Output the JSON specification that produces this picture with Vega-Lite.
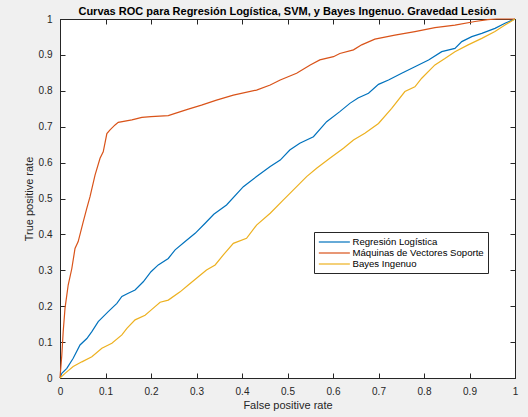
{
  "$schema": "https://vega.github.io/schema/vega-lite/v6.json",
  "width": 455,
  "height": 359,
  "autosize": "none",
  "padding": {"left": 60, "top": 19, "right": 13, "bottom": 39},
  "background": "#f0f0f0",
  "title": {
    "text": "Curvas ROC para Regresión Logística, SVM, y Bayes Ingenuo. Gravedad Lesión",
    "font": "Liberation Sans",
    "fontSize": 11,
    "fontWeight": "bold",
    "color": "#000000",
    "anchor": "middle",
    "frame": "group",
    "offset": -3
  },
  "datasets": {
    "roc": [
      {"model": "Regresión Logística", "fpr": 0, "tpr": 0},
      {"model": "Regresión Logística", "fpr": 0.004, "tpr": 0.013},
      {"model": "Regresión Logística", "fpr": 0.015, "tpr": 0.027},
      {"model": "Regresión Logística", "fpr": 0.029, "tpr": 0.055},
      {"model": "Regresión Logística", "fpr": 0.044, "tpr": 0.092},
      {"model": "Regresión Logística", "fpr": 0.059, "tpr": 0.11},
      {"model": "Regresión Logística", "fpr": 0.07, "tpr": 0.129},
      {"model": "Regresión Logística", "fpr": 0.084, "tpr": 0.157},
      {"model": "Regresión Logística", "fpr": 0.106, "tpr": 0.185},
      {"model": "Regresión Logística", "fpr": 0.125, "tpr": 0.208},
      {"model": "Regresión Logística", "fpr": 0.136, "tpr": 0.227},
      {"model": "Regresión Logística", "fpr": 0.15, "tpr": 0.236},
      {"model": "Regresión Logística", "fpr": 0.165, "tpr": 0.245},
      {"model": "Regresión Logística", "fpr": 0.183, "tpr": 0.268},
      {"model": "Regresión Logística", "fpr": 0.2, "tpr": 0.296},
      {"model": "Regresión Logística", "fpr": 0.216, "tpr": 0.315},
      {"model": "Regresión Logística", "fpr": 0.238, "tpr": 0.333},
      {"model": "Regresión Logística", "fpr": 0.253, "tpr": 0.357},
      {"model": "Regresión Logística", "fpr": 0.275, "tpr": 0.38},
      {"model": "Regresión Logística", "fpr": 0.297, "tpr": 0.403},
      {"model": "Regresión Logística", "fpr": 0.319, "tpr": 0.431},
      {"model": "Regresión Logística", "fpr": 0.338, "tpr": 0.456},
      {"model": "Regresión Logística", "fpr": 0.366, "tpr": 0.482},
      {"model": "Regresión Logística", "fpr": 0.403, "tpr": 0.533},
      {"model": "Regresión Logística", "fpr": 0.432, "tpr": 0.561},
      {"model": "Regresión Logística", "fpr": 0.462, "tpr": 0.589},
      {"model": "Regresión Logística", "fpr": 0.484, "tpr": 0.607},
      {"model": "Regresión Logística", "fpr": 0.505, "tpr": 0.635},
      {"model": "Regresión Logística", "fpr": 0.527, "tpr": 0.654},
      {"model": "Regresión Logística", "fpr": 0.557, "tpr": 0.672},
      {"model": "Regresión Logística", "fpr": 0.586, "tpr": 0.714},
      {"model": "Regresión Logística", "fpr": 0.615, "tpr": 0.742},
      {"model": "Regresión Logística", "fpr": 0.637, "tpr": 0.765},
      {"model": "Regresión Logística", "fpr": 0.655, "tpr": 0.78},
      {"model": "Regresión Logística", "fpr": 0.678, "tpr": 0.793},
      {"model": "Regresión Logística", "fpr": 0.7, "tpr": 0.818},
      {"model": "Regresión Logística", "fpr": 0.722, "tpr": 0.83},
      {"model": "Regresión Logística", "fpr": 0.751, "tpr": 0.849},
      {"model": "Regresión Logística", "fpr": 0.78, "tpr": 0.867},
      {"model": "Regresión Logística", "fpr": 0.81, "tpr": 0.886},
      {"model": "Regresión Logística", "fpr": 0.839, "tpr": 0.909},
      {"model": "Regresión Logística", "fpr": 0.868, "tpr": 0.918},
      {"model": "Regresión Logística", "fpr": 0.883, "tpr": 0.937},
      {"model": "Regresión Logística", "fpr": 0.905, "tpr": 0.951},
      {"model": "Regresión Logística", "fpr": 0.927, "tpr": 0.96},
      {"model": "Regresión Logística", "fpr": 0.956, "tpr": 0.974},
      {"model": "Regresión Logística", "fpr": 0.978, "tpr": 0.988},
      {"model": "Regresión Logística", "fpr": 1, "tpr": 1},
      {"model": "Máquinas de Vectores Soporte", "fpr": 0, "tpr": 0},
      {"model": "Máquinas de Vectores Soporte", "fpr": 0.004, "tpr": 0.064},
      {"model": "Máquinas de Vectores Soporte", "fpr": 0.007, "tpr": 0.129},
      {"model": "Máquinas de Vectores Soporte", "fpr": 0.011, "tpr": 0.194},
      {"model": "Máquinas de Vectores Soporte", "fpr": 0.018, "tpr": 0.259},
      {"model": "Máquinas de Vectores Soporte", "fpr": 0.026, "tpr": 0.305},
      {"model": "Máquinas de Vectores Soporte", "fpr": 0.033, "tpr": 0.361},
      {"model": "Máquinas de Vectores Soporte", "fpr": 0.04, "tpr": 0.38},
      {"model": "Máquinas de Vectores Soporte", "fpr": 0.051, "tpr": 0.435},
      {"model": "Máquinas de Vectores Soporte", "fpr": 0.059, "tpr": 0.473},
      {"model": "Máquinas de Vectores Soporte", "fpr": 0.066, "tpr": 0.505},
      {"model": "Máquinas de Vectores Soporte", "fpr": 0.077, "tpr": 0.565},
      {"model": "Máquinas de Vectores Soporte", "fpr": 0.088, "tpr": 0.612},
      {"model": "Máquinas de Vectores Soporte", "fpr": 0.095, "tpr": 0.63},
      {"model": "Máquinas de Vectores Soporte", "fpr": 0.103, "tpr": 0.681},
      {"model": "Máquinas de Vectores Soporte", "fpr": 0.11, "tpr": 0.691},
      {"model": "Máquinas de Vectores Soporte", "fpr": 0.121, "tpr": 0.705},
      {"model": "Máquinas de Vectores Soporte", "fpr": 0.128, "tpr": 0.712},
      {"model": "Máquinas de Vectores Soporte", "fpr": 0.158, "tpr": 0.719},
      {"model": "Máquinas de Vectores Soporte", "fpr": 0.18, "tpr": 0.726},
      {"model": "Máquinas de Vectores Soporte", "fpr": 0.2, "tpr": 0.728},
      {"model": "Máquinas de Vectores Soporte", "fpr": 0.238, "tpr": 0.731},
      {"model": "Máquinas de Vectores Soporte", "fpr": 0.253, "tpr": 0.737},
      {"model": "Máquinas de Vectores Soporte", "fpr": 0.282, "tpr": 0.749},
      {"model": "Máquinas de Vectores Soporte", "fpr": 0.311, "tpr": 0.76},
      {"model": "Máquinas de Vectores Soporte", "fpr": 0.344, "tpr": 0.774},
      {"model": "Máquinas de Vectores Soporte", "fpr": 0.381, "tpr": 0.788},
      {"model": "Máquinas de Vectores Soporte", "fpr": 0.432, "tpr": 0.802},
      {"model": "Máquinas de Vectores Soporte", "fpr": 0.462, "tpr": 0.816},
      {"model": "Máquinas de Vectores Soporte", "fpr": 0.484, "tpr": 0.83},
      {"model": "Máquinas de Vectores Soporte", "fpr": 0.52, "tpr": 0.849},
      {"model": "Máquinas de Vectores Soporte", "fpr": 0.55, "tpr": 0.872},
      {"model": "Máquinas de Vectores Soporte", "fpr": 0.571, "tpr": 0.886},
      {"model": "Máquinas de Vectores Soporte", "fpr": 0.601, "tpr": 0.895},
      {"model": "Máquinas de Vectores Soporte", "fpr": 0.615, "tpr": 0.904},
      {"model": "Máquinas de Vectores Soporte", "fpr": 0.645, "tpr": 0.914},
      {"model": "Máquinas de Vectores Soporte", "fpr": 0.663, "tpr": 0.928},
      {"model": "Máquinas de Vectores Soporte", "fpr": 0.692, "tpr": 0.944},
      {"model": "Máquinas de Vectores Soporte", "fpr": 0.736, "tpr": 0.955},
      {"model": "Máquinas de Vectores Soporte", "fpr": 0.78, "tpr": 0.965},
      {"model": "Máquinas de Vectores Soporte", "fpr": 0.824, "tpr": 0.976},
      {"model": "Máquinas de Vectores Soporte", "fpr": 0.868, "tpr": 0.983},
      {"model": "Máquinas de Vectores Soporte", "fpr": 0.912, "tpr": 0.993},
      {"model": "Máquinas de Vectores Soporte", "fpr": 0.94, "tpr": 0.998},
      {"model": "Máquinas de Vectores Soporte", "fpr": 0.96, "tpr": 1},
      {"model": "Máquinas de Vectores Soporte", "fpr": 1, "tpr": 1},
      {"model": "Bayes Ingenuo", "fpr": 0, "tpr": 0},
      {"model": "Bayes Ingenuo", "fpr": 0.011, "tpr": 0.013},
      {"model": "Bayes Ingenuo", "fpr": 0.029, "tpr": 0.032},
      {"model": "Bayes Ingenuo", "fpr": 0.048, "tpr": 0.045},
      {"model": "Bayes Ingenuo", "fpr": 0.07, "tpr": 0.059},
      {"model": "Bayes Ingenuo", "fpr": 0.092, "tpr": 0.083},
      {"model": "Bayes Ingenuo", "fpr": 0.114, "tpr": 0.097},
      {"model": "Bayes Ingenuo", "fpr": 0.136, "tpr": 0.12},
      {"model": "Bayes Ingenuo", "fpr": 0.147, "tpr": 0.138},
      {"model": "Bayes Ingenuo", "fpr": 0.165, "tpr": 0.162},
      {"model": "Bayes Ingenuo", "fpr": 0.187, "tpr": 0.175},
      {"model": "Bayes Ingenuo", "fpr": 0.2, "tpr": 0.189},
      {"model": "Bayes Ingenuo", "fpr": 0.22, "tpr": 0.211},
      {"model": "Bayes Ingenuo", "fpr": 0.238, "tpr": 0.217},
      {"model": "Bayes Ingenuo", "fpr": 0.264, "tpr": 0.24},
      {"model": "Bayes Ingenuo", "fpr": 0.282, "tpr": 0.259},
      {"model": "Bayes Ingenuo", "fpr": 0.304, "tpr": 0.282},
      {"model": "Bayes Ingenuo", "fpr": 0.322, "tpr": 0.301},
      {"model": "Bayes Ingenuo", "fpr": 0.341, "tpr": 0.315},
      {"model": "Bayes Ingenuo", "fpr": 0.359, "tpr": 0.343},
      {"model": "Bayes Ingenuo", "fpr": 0.381, "tpr": 0.375},
      {"model": "Bayes Ingenuo", "fpr": 0.41, "tpr": 0.389},
      {"model": "Bayes Ingenuo", "fpr": 0.432, "tpr": 0.426},
      {"model": "Bayes Ingenuo", "fpr": 0.462, "tpr": 0.459},
      {"model": "Bayes Ingenuo", "fpr": 0.491, "tpr": 0.496},
      {"model": "Bayes Ingenuo", "fpr": 0.513, "tpr": 0.524},
      {"model": "Bayes Ingenuo", "fpr": 0.542, "tpr": 0.561},
      {"model": "Bayes Ingenuo", "fpr": 0.564, "tpr": 0.584},
      {"model": "Bayes Ingenuo", "fpr": 0.593, "tpr": 0.612},
      {"model": "Bayes Ingenuo", "fpr": 0.623, "tpr": 0.64},
      {"model": "Bayes Ingenuo", "fpr": 0.645, "tpr": 0.663},
      {"model": "Bayes Ingenuo", "fpr": 0.67, "tpr": 0.682},
      {"model": "Bayes Ingenuo", "fpr": 0.7, "tpr": 0.709},
      {"model": "Bayes Ingenuo", "fpr": 0.729, "tpr": 0.751},
      {"model": "Bayes Ingenuo", "fpr": 0.758, "tpr": 0.798},
      {"model": "Bayes Ingenuo", "fpr": 0.78, "tpr": 0.811},
      {"model": "Bayes Ingenuo", "fpr": 0.795, "tpr": 0.835},
      {"model": "Bayes Ingenuo", "fpr": 0.824, "tpr": 0.872},
      {"model": "Bayes Ingenuo", "fpr": 0.846, "tpr": 0.89},
      {"model": "Bayes Ingenuo", "fpr": 0.868, "tpr": 0.909},
      {"model": "Bayes Ingenuo", "fpr": 0.897, "tpr": 0.928},
      {"model": "Bayes Ingenuo", "fpr": 0.927, "tpr": 0.946},
      {"model": "Bayes Ingenuo", "fpr": 0.956, "tpr": 0.965},
      {"model": "Bayes Ingenuo", "fpr": 0.978, "tpr": 0.983},
      {"model": "Bayes Ingenuo", "fpr": 1, "tpr": 1}
    ]
  },
  "data": {"name": "roc"},
  "resolve": {"axis": {"x": "independent", "y": "independent"}},
  "layer": [
    {
      "mark": {"type": "line", "strokeWidth": 1.2, "opacity": 0},
      "encoding": {
        "x": {"field": "fpr", "type": "quantitative", "scale": {"domain": [0, 1], "nice": false},
          "axis": {"orient": "top", "labels": false, "title": null, "values": [0, 0.1, 0.2, 0.3, 0.4, 0.5, 0.6, 0.7, 0.8, 0.9, 1]}},
        "y": {"field": "tpr", "type": "quantitative", "scale": {"domain": [0, 1], "nice": false},
          "axis": {"orient": "right", "labels": false, "title": null, "values": [0, 0.1, 0.2, 0.3, 0.4, 0.5, 0.6, 0.7, 0.8, 0.9, 1]}},
        "detail": {"field": "model"}
      }
    },
    {
      "mark": {"type": "line", "strokeWidth": 1.2},
      "encoding": {
        "x": {"field": "fpr", "type": "quantitative", "scale": {"domain": [0, 1], "nice": false},
          "axis": {"orient": "bottom", "title": "False positive rate", "values": [0, 0.1, 0.2, 0.3, 0.4, 0.5, 0.6, 0.7, 0.8, 0.9, 1], "format": ".1~f", "labelPadding": 13, "titlePadding": 3}},
        "y": {"field": "tpr", "type": "quantitative", "scale": {"domain": [0, 1], "nice": false},
          "axis": {"orient": "left", "title": "True positive rate", "values": [0, 0.1, 0.2, 0.3, 0.4, 0.5, 0.6, 0.7, 0.8, 0.9, 1], "format": ".1~f", "labelPadding": 13, "titlePadding": 4}},
        "color": {
          "field": "model",
          "type": "nominal",
          "scale": {"domain": ["Regresión Logística", "Máquinas de Vectores Soporte", "Bayes Ingenuo"], "range": ["#0072BD", "#D95319", "#EDB120"]},
          "legend": {
            "title": null,
            "orient": "none",
            "legendX": 254,
            "legendY": 213,
            "symbolType": "M-1,0H5",
            "symbolSize": 107,
            "symbolStrokeWidth": 1.2,
            "labelFont": "Liberation Sans",
            "labelFontSize": 9.6,
            "labelColor": "#000000",
            "labelOffset": 22.5,
            "padding": 4,
            "rowPadding": 0,
            "strokeColor": "#262626",
            "fillColor": "#ffffff",
            "cornerRadius": 0
          }
        }
      }
    }
  ],
  "config": {
    "view": {"fill": "#ffffff", "stroke": "#262626", "strokeWidth": 1},
    "axis": {
      "grid": false,
      "domainColor": "#262626",
      "tickColor": "#262626",
      "tickSize": -5,
      "labelColor": "#262626",
      "titleColor": "#262626",
      "labelFont": "Liberation Sans",
      "titleFont": "Liberation Sans",
      "labelFontSize": 10,
      "titleFontSize": 11,
      "titleFontWeight": "normal",
      "labelFlush": false,
      "labelOverlap": false
    }
  }
}
